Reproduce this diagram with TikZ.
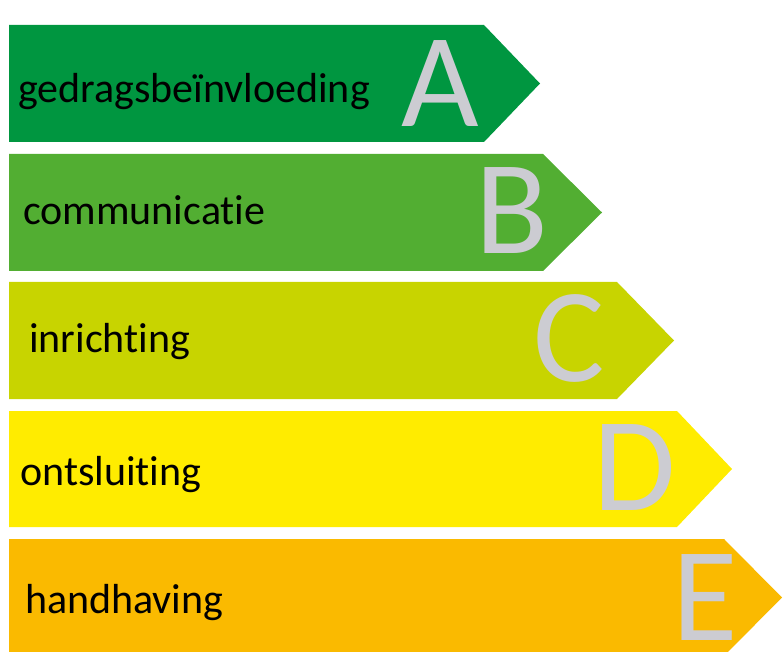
\documentclass[tikz,border=0pt]{standalone}
\usepackage{fontspec}
\setmainfont{Carlito}[Ligatures=CommonOff]

\definecolor{gradeA}{RGB}{0,150,64}
\definecolor{gradeB}{RGB}{82,174,50}
\definecolor{gradeC}{RGB}{200,212,0}
\definecolor{gradeD}{RGB}{255,236,0}
\definecolor{gradeE}{RGB}{250,186,0}
\definecolor{lettergrey}{RGB}{204,204,210}

\tikzset{
  bartext/.style={anchor=base west, inner sep=0pt, text=black,
    font=\fontsize{42}{50}\selectfont},
  grade/.style={anchor=base, inner sep=0pt, text=lettergrey,
    font=\fontsize{134}{134}\selectfont},
}

\begin{document}
\begin{tikzpicture}[x=1pt, y=-1pt]
  \useasboundingbox (0,0) rectangle (784,652);
  \clip (0,0) rectangle (784,652);
  % one arrow per grade
  \foreach \n/\yt/\yb/\sh/\tip/\col/\txt/\tx/\ty/\lx/\ly in {
      A/25/142/484/540/gradeA/gedragsbeïnvloeding/18/103/440/127,
      B/154/271/543/602/gradeB/communicatie/23/225/512/254,
      C/282/399/617/674/gradeC/inrichting/29/352/569/381,
      D/411/527/677/732/gradeD/ontsluiting/20/485/635/510,
      E/539/656/724/782/gradeE/handhaving/25/613/705/640}
  {
    \fill[fill=\col] (9,\yt) -- (\sh,\yt) -- (\tip,{(\yt+\yb)/2}) -- (\sh,\yb) -- (9,\yb) -- cycle;
    \node[bartext] (txt\n) at (\tx,\ty) {\txt};
    \node[grade] (grade\n) at (\lx,\ly) {\n};
  }
\end{tikzpicture}
\end{document}
